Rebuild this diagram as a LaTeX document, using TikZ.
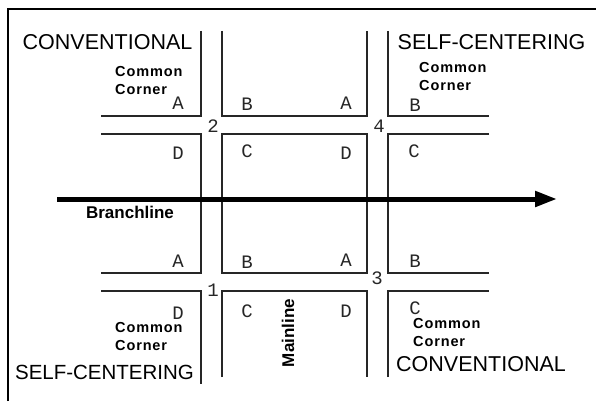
\documentclass[tikz,border=0pt]{standalone}
\usepackage{fontspec}
\setmainfont{Liberation Sans}
\newfontfamily\monofnt{Liberation Mono}
\newfontfamily\ccfont[LetterSpace=6]{Liberation Sans}
\usetikzlibrary{arrows.meta}
\tikzset{
  road/.style={line width=1.6pt, draw=black!85, line cap=butt, line join=miter},
  frame/.style={line width=2.6pt, draw=black},
  big/.style={inner sep=0pt, font=\fontsize{21.5}{22}\selectfont},
  cc/.style={inner sep=0pt, anchor=west, font=\fontsize{14.5}{16}\ccfont\bfseries\selectfont},
  lbl/.style={inner sep=0pt, font=\fontsize{19}{19}\monofnt\selectfont, text=black!85},
  bold/.style={inner sep=0pt, font=\fontsize{17}{18}\bfseries\selectfont},
}
\begin{document}
\begin{tikzpicture}[x=1pt,y=-1pt]
\useasboundingbox (0,0) rectangle (596,401);
\fill[white] (0,0) rectangle (596,401);
% frame
\coordinate (f1) at (8,401);
\coordinate (f2) at (8,9);
\coordinate (f3) at (596,9);
\draw[frame] (f1) -- (f2) -- (f3);
% top blocks
\draw[road] (201,31) -- (201,116) -- (101,116);
\draw[road] (222,31) -- (222,116) -- (367,116) -- (367,31);
\draw[road] (388,31) -- (388,116) -- (489,116);
% middle blocks
\draw[road] (101,134) -- (201,134) -- (201,273) -- (101,273);
\draw[road] (222,134) rectangle (367,273);
\draw[road] (489,134) -- (388,134) -- (388,273) -- (489,273);
% bottom blocks
\draw[road] (101,291) -- (201,291) -- (201,384);
\draw[road] (222,377) -- (222,291) -- (367,291) -- (367,377);
\draw[road] (388,377) -- (388,291) -- (489,291);
% branchline arrow
\coordinate (bs) at (57,199);
\coordinate (be) at (557,199);
\draw[line width=5pt, -{Triangle[length=22pt,width=15pt]}] (bs) -- (be);
% big titles
\node[big] (t1) at (107.5,42) {CONVENTIONAL};
\node[big] (t2) at (491.5,42) {SELF-CENTERING};
\node[big, font=\fontsize{20.5}{21}\selectfont] (t3) at (104.5,372) {SELF-CENTERING};
\node[big] (t4) at (481,364) {CONVENTIONAL};
% common corners
\node[cc] (c1a) at (115,72) {Common};
\node[cc] (c1b) at (115,90) {Corner};
\node[cc] (c2a) at (419,68) {Common};
\node[cc] (c2b) at (419,86) {Corner};
\node[cc] (c3a) at (115,328) {Common};
\node[cc] (c3b) at (115,346) {Corner};
\node[cc] (c4a) at (413,324) {Common};
\node[cc] (c4b) at (413,342) {Corner};
% corner letters
\node[lbl] (a1) at (178,103) {A};
\node[lbl] (b1) at (247,104) {B};
\node[lbl] (d1) at (178,153) {D};
\node[lbl] (e1) at (247,151) {C};
\node[lbl] (a2) at (346,103) {A};
\node[lbl] (b2) at (415,105) {B};
\node[lbl] (d2) at (346,153) {D};
\node[lbl] (e2) at (414,151) {C};
\node[lbl] (a3) at (178,261) {A};
\node[lbl] (b3) at (247,262) {B};
\node[lbl] (d3) at (178,313) {D};
\node[lbl] (e3) at (247,311) {C};
\node[lbl] (a4) at (346,260) {A};
\node[lbl] (b4) at (415,261) {B};
\node[lbl] (d4) at (346,311) {D};
\node[lbl] (e4) at (415,308) {C};
% intersection numbers
\node[lbl] (n2) at (213,126) {2};
\node[lbl] (n4) at (379,126) {4};
\node[lbl] (n1) at (213,290) {1};
\node[lbl] (n3) at (377,278) {3};
% road names
\node[bold] (br) at (130,212) {Branchline};
\node[bold, rotate=90] (ml) at (288,333) {Mainline};
\end{tikzpicture}
\end{document}
